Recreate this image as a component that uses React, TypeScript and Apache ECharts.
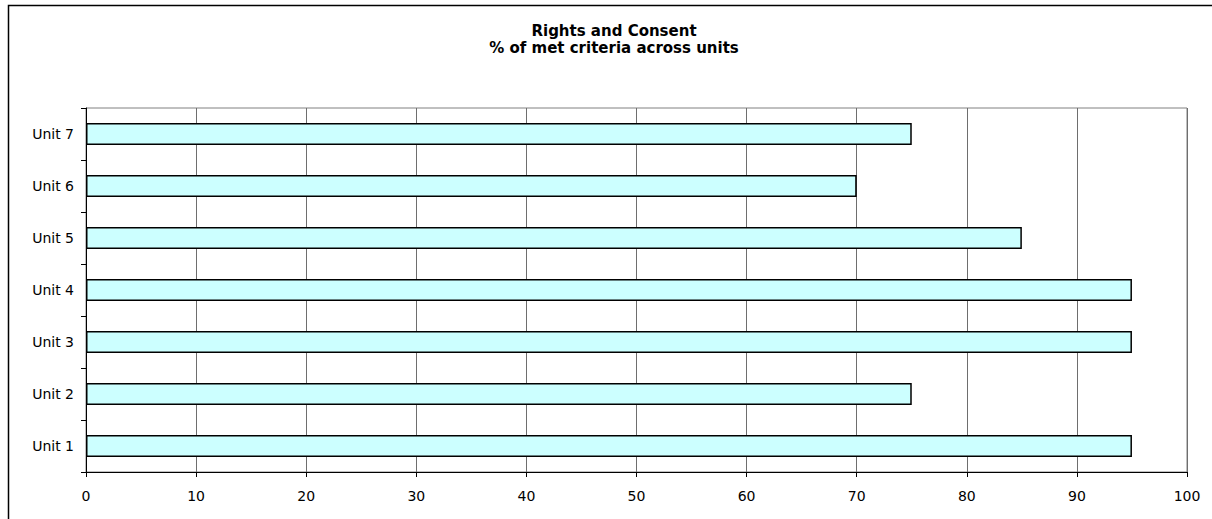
import React, { useEffect, useRef } from "react";
import * as echarts from "echarts";

const categories = ["Unit 1", "Unit 2", "Unit 3", "Unit 4", "Unit 5", "Unit 6", "Unit 7"];
const metCriteria = [95, 75, 95, 95, 85, 70, 75];
const titleLines = ["Rights and Consent", "% of met criteria across units"];

const FONT = "'DejaVu Sans', Verdana, sans-serif";

export default function App() {
  const ref = useRef<HTMLDivElement>(null);

  useEffect(() => {
    if (!ref.current) return;
    const chart = echarts.init(ref.current, undefined, { renderer: "svg" });
    chart.setOption({
      animation: false,
      backgroundColor: "#ffffff",
      graphic: [
        {
          type: "rect",
          shape: { x: 8.5, y: 5.5, width: 1230, height: 540 },
          style: { fill: "none", stroke: "#000", lineWidth: 1.5 },
          silent: true,
        },
        {
          type: "text",
          x: 614,
          y: 31,
          style: {
            text: titleLines[0],
            font: `bold 15px ${FONT}`,
            fill: "#000",
            align: "center",
            verticalAlign: "middle",
          },
        },
        {
          type: "text",
          x: 614,
          y: 48,
          style: {
            text: titleLines[1],
            font: `bold 15px ${FONT}`,
            fill: "#000",
            align: "center",
            verticalAlign: "middle",
          },
        },
      ],
      grid: {
        left: 86,
        right: 25,
        top: 108,
        bottom: 47,
        show: true,
        borderColor: "#808080",
        borderWidth: 1,
        containLabel: false,
      },
      xAxis: {
        type: "value",
        min: 0,
        max: 100,
        interval: 10,
        axisLine: { show: true, lineStyle: { color: "#000", width: 1 } },
        axisTick: { show: true, length: 5, inside: false, lineStyle: { color: "#000" } },
        axisLabel: { color: "#000", fontFamily: FONT, fontSize: 14, margin: 17 },
        splitLine: { show: true, lineStyle: { color: "#6e6e6e", width: 1 } },
      },
      yAxis: {
        type: "category",
        data: categories,
        axisLine: { show: true, lineStyle: { color: "#000", width: 1 } },
        axisTick: { show: true, length: 5, inside: false, alignWithLabel: false, lineStyle: { color: "#000" } },
        axisLabel: { color: "#000", fontFamily: FONT, fontSize: 14, margin: 12 },
        splitLine: { show: false },
      },
      series: [
        {
          type: "bar",
          data: metCriteria,
          barWidth: 22,
          itemStyle: { color: "#ccffff", borderColor: "#000", borderWidth: 1.5 },
        },
      ],
    });
    return () => chart.dispose();
  }, []);

  return (
    <div
      ref={ref}
      style={{ position: "absolute", left: 0, top: 0, width: 1212, height: 519 }}
    />
  );
}
